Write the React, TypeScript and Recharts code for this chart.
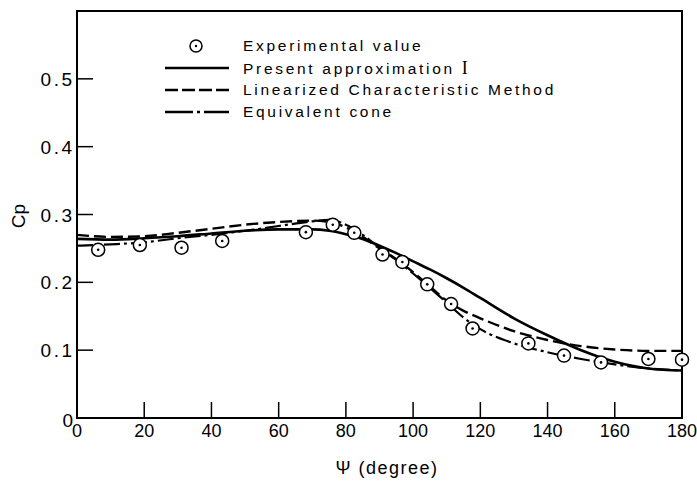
import { ComposedChart, Line, Scatter, XAxis, YAxis, ReferenceArea, Legend } from "recharts";

const FONT = '"Liberation Sans", Arial, sans-serif';

// experimental points
const psiExp = [6.3, 18.7, 31.1, 43.2, 68.1, 76.1, 82.5, 90.9, 96.8, 104.2, 111.3, 117.7, 134.3, 144.9, 155.9, 170.0, 180.0];
const cpExp = [0.248, 0.255, 0.251, 0.261, 0.274, 0.285, 0.273, 0.241, 0.23, 0.197, 0.168, 0.132, 0.11, 0.092, 0.082, 0.087, 0.086];

// curves, read at these angles
const psiGrid = [0, 10, 20, 30, 40, 50, 60, 70, 75, 80, 85, 90, 95, 100, 105, 110, 115, 120, 130, 140, 150, 160, 170, 180];
const cpPresent = [0.264, 0.263, 0.265, 0.268, 0.272, 0.276, 0.278, 0.278, 0.276, 0.271, 0.264, 0.254, 0.243, 0.231, 0.219, 0.206, 0.192, 0.177, 0.147, 0.122, 0.1, 0.083, 0.073, 0.07];
const cpLinearized = [0.27, 0.267, 0.268, 0.273, 0.279, 0.285, 0.289, 0.291, 0.289, 0.281, 0.267, 0.25, 0.234, 0.215, 0.194, 0.173, 0.158, 0.147, 0.128, 0.115, 0.106, 0.101, 0.099, 0.099];
const cpCone = [0.254, 0.256, 0.259, 0.265, 0.27, 0.276, 0.283, 0.29, 0.292, 0.285, 0.27, 0.251, 0.233, 0.213, 0.192, 0.17, 0.148, 0.131, 0.11, 0.097, 0.087, 0.079, 0.073, 0.07];

const xTicks = [0, 20, 40, 60, 80, 100, 120, 140, 160, 180];
const yTicks = [0, 0.1, 0.2, 0.3, 0.4, 0.5];

const legendLabels = ["Experimental value", "Present approximation ", "Linearized Characteristic Method", "Equivalent cone"];

const expData = psiExp.map((psi, i) => ({ psi, cp: cpExp[i] }));
const toRows = (vals: number[]) => psiGrid.map((psi, i) => ({ psi, cp: vals[i] }));

const DASHED = "12 5";
const DASHDOT = "16 4 3 4";

function ExpMark(props: any) {
  const { cx, cy } = props;
  if (cx == null || cy == null) return null;
  return (
    <g>
      <circle cx={cx} cy={cy} r={6.5} fill="#fff" stroke="#000" strokeWidth={1.5} />
      <circle cx={cx} cy={cy} r={1.3} fill="#000" />
    </g>
  );
}

function XTick(props: any) {
  const { x, y, payload } = props;
  const v = payload.value;
  return (
    <g>
      {v > 0 && v < 180 && <line x1={x} x2={x} y1={y} y2={y - 16} stroke="#000" strokeWidth={1.5} />}
      <text x={x} y={y + 19} textAnchor="middle" fontSize={18} fontFamily={FONT} fill="#000">
        {v}
      </text>
    </g>
  );
}

function YTick(props: any) {
  const { x, y, payload } = props;
  const v = payload.value;
  return (
    <g>
      {v > 0 && <line x1={x + 5} x2={x + 21} y1={y} y2={y} stroke="#000" strokeWidth={1.5} />}
      <text
        x={v === 0 ? x + 1 : x + 2.5}
        y={v === 0 ? y + 9 : y + 7}
        textAnchor="end"
        fontSize={19}
        fontFamily={FONT}
        letterSpacing={v === 0 ? 0 : 2.5}
        fill="#000"
      >
        {v === 0 ? "0" : v.toFixed(1)}
      </text>
    </g>
  );
}

function Sample({ idx }: { idx: number }) {
  return (
    <svg width={64} height={22} style={{ display: "block" }}>
      {idx === 0 && (
        <g>
          <circle cx={31} cy={11} r={6} fill="#fff" stroke="#000" strokeWidth={1.5} />
          <circle cx={31} cy={11} r={1.2} fill="#000" />
        </g>
      )}
      {idx === 1 && <line x1={0} x2={64} y1={11} y2={11} stroke="#000" strokeWidth={2.5} />}
      {idx === 2 && <line x1={0} x2={64} y1={11} y2={11} stroke="#000" strokeWidth={2.5} strokeDasharray="13 4" />}
      {idx === 3 && <line x1={0} x2={64} y1={11} y2={11} stroke="#000" strokeWidth={2.5} strokeDasharray="28 4 3 4" />}
    </svg>
  );
}

function LegendBox() {
  return (
    <div style={{ fontFamily: FONT, fontSize: 15.5, letterSpacing: 2.7, color: "#000", lineHeight: "22px" }}>
      {legendLabels.map((label, i) => (
        <div key={label} style={{ display: "flex", alignItems: "center", height: 22 }}>
          <Sample idx={i} />
          <span style={{ marginLeft: 14, whiteSpace: "nowrap" }}>
            {label}
            {i === 1 && <span style={{ fontFamily: '"Liberation Serif", serif', fontSize: 18 }}>I</span>}
          </span>
        </div>
      ))}
    </div>
  );
}

export default function App() {
  return (
    <div style={{ position: "absolute", left: 0, top: 0, background: "#fff" }}>
      <ComposedChart width={697} height={488} margin={{ top: 11, right: 15, left: 0, bottom: 0 }}>
        <XAxis
          dataKey="psi"
          type="number"
          domain={[0, 180]}
          ticks={xTicks}
          height={70}
          axisLine={false}
          tickLine={false}
          tickSize={0}
          tickMargin={0}
          tick={<XTick />}
          label={{
            content: () => (
              <text x={387} y={474} textAnchor="middle" fontSize={18} fontFamily={FONT} letterSpacing={1.5} fill="#000">
                Ψ (degree)
              </text>
            ),
          }}
        />
        <YAxis
          type="number"
          domain={[0, 0.6]}
          ticks={yTicks}
          width={77}
          axisLine={false}
          tickLine={false}
          tickSize={0}
          tickMargin={5}
          tick={<YTick />}
          label={{
            content: () => (
              <text transform="translate(25,216) rotate(-90)" textAnchor="middle" fontSize={19} fontFamily={FONT} fill="#000">
                Cp
              </text>
            ),
          }}
        />
        <ReferenceArea x1={0} x2={180} y1={0} y2={0.6} fill="none" stroke="#000" strokeWidth={2} ifOverflow="visible" />
        <Legend
          layout="horizontal"
          verticalAlign="middle"
          align="center"
          content={() => <LegendBox />}
          wrapperStyle={{ left: 165, top: 35, width: 460 }}
        />
        <Line data={toRows(cpPresent)} dataKey="cp" type="monotone" stroke="#000" strokeWidth={2.6} dot={false} activeDot={false} isAnimationActive={false} />
        <Line data={toRows(cpLinearized)} dataKey="cp" type="monotone" stroke="#000" strokeWidth={2.4} strokeDasharray={DASHED} dot={false} activeDot={false} isAnimationActive={false} />
        <Line data={toRows(cpCone)} dataKey="cp" type="monotone" stroke="#000" strokeWidth={2.2} strokeDasharray={DASHDOT} dot={false} activeDot={false} isAnimationActive={false} />
        <Scatter data={expData} dataKey="cp" shape={<ExpMark />} isAnimationActive={false} />
      </ComposedChart>
    </div>
  );
}
